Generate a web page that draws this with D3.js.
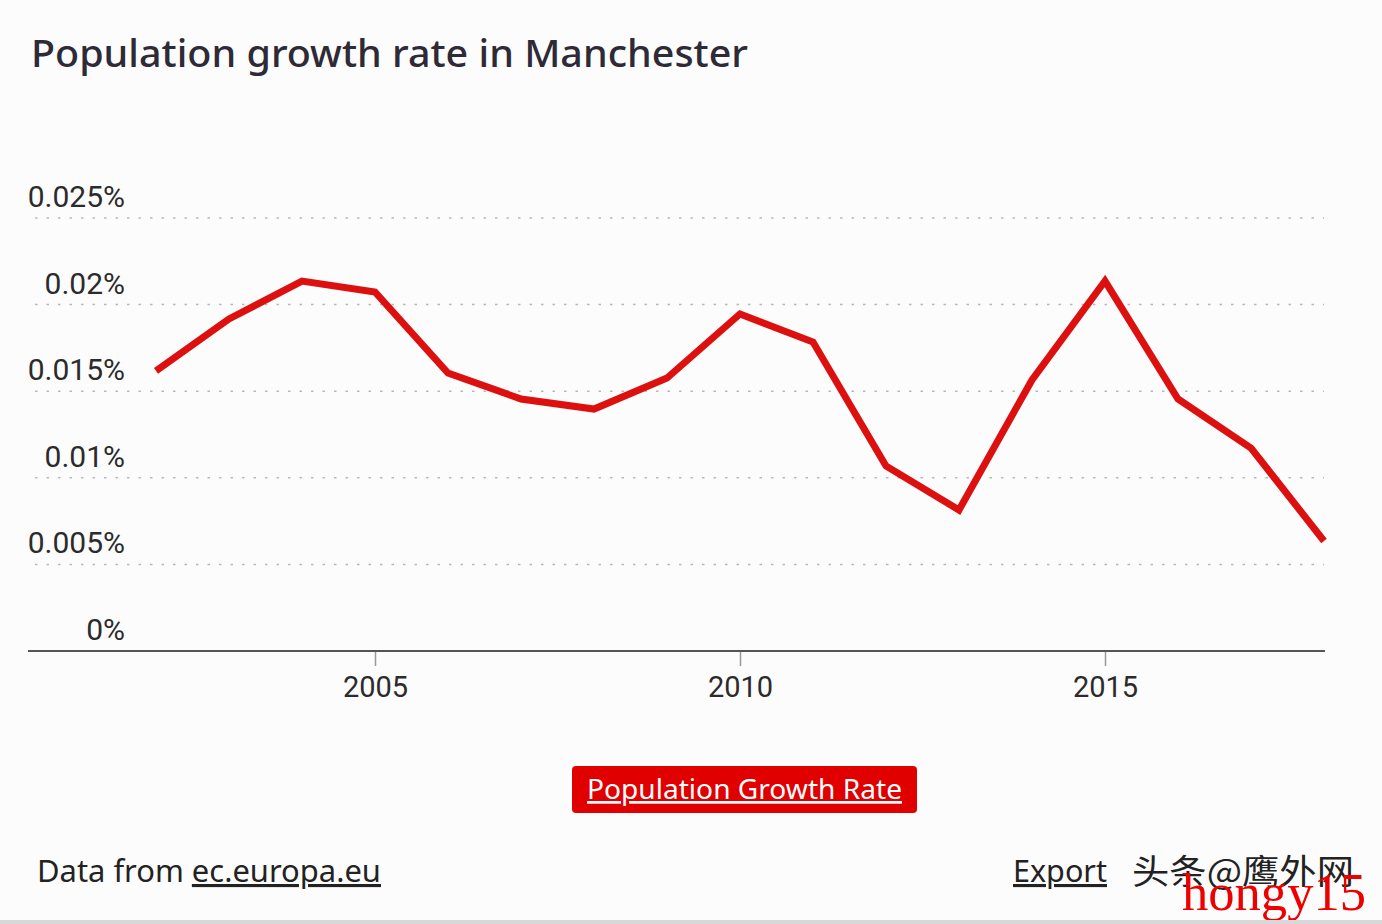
<!DOCTYPE html>
<html>
<head>
<meta charset="utf-8">
<script src="https://cdn.jsdelivr.net/npm/d3@7"></script>
<style>
  html, body { margin: 0; padding: 0; background: #fdfcfd; }
  svg { display: block; }
</style>
</head>
<body>
<svg id="chart" width="1382" height="924"></svg>
<script>
const years = [2002, 2003, 2004, 2005, 2006, 2007, 2008, 2009, 2010, 2011, 2012, 2013, 2014, 2015, 2016, 2017, 2018];
const growthRate = [0.01617, 0.01917, 0.02136, 0.02073, 0.01605, 0.01455, 0.01397, 0.01576, 0.01946, 0.01784, 0.01068, 0.00814, 0.01565, 0.02136, 0.01455, 0.01172, 0.00635];
const yTicks = [0, 0.005, 0.01, 0.015, 0.02, 0.025];
const yTickLabels = ["0%", "0.005%", "0.01%", "0.015%", "0.02%", "0.025%"];
const xTicks = [2005, 2010, 2015];
const xTickLabels = ["2005", "2010", "2015"];
const titleText = "Population growth rate in Manchester";
const seriesName = "Population Growth Rate";

const W = 1382, H = 924;
const plot = { left: 156, right: 1324, top: 218, bottom: 651 };

const svg = d3.select("#chart");
svg.append("rect").attr("width", W).attr("height", H).attr("fill", "#fdfcfd");

const x = d3.scaleLinear().domain([2002, 2018]).range([plot.left, plot.right]);
const y = d3.scaleLinear().domain([0, 0.025]).range([plot.bottom, plot.top]);

// Title
svg.append("text")
  .attr("x", 31).attr("y", 67)
  .attr("font-family", "'Noto Sans', sans-serif")
  .attr("font-weight", 500)
  .attr("font-size", 38)
  .attr("fill", "#2e2a36")
  .attr("textLength", 717)
  .attr("lengthAdjust", "spacingAndGlyphs")
  .text(titleText);

// Gridlines (dotted)
const grid = svg.append("g");
grid.selectAll("line").data(yTicks.filter(d => d > 0)).join("line")
  .attr("x1", 35).attr("x2", plot.right)
  .attr("y1", d => y(d)).attr("y2", d => y(d))
  .attr("stroke", "#b8b8b8").attr("stroke-width", 1.5)
  .attr("stroke-dasharray", "2.5,9");

// Y labels
const ylab = svg.append("g");
ylab.selectAll("text").data(yTicks).join("text")
  .attr("x", 125)
  .attr("y", d => y(d) - 11)
  .attr("text-anchor", "end")
  .attr("font-family", "Roboto, sans-serif")
  .attr("font-size", 30)
  .attr("fill", "#2b2b2b")
  .text((d, i) => yTickLabels[i]);

// X axis
const xAxis = d3.axisBottom(x).tickValues(xTicks).tickFormat((d, i) => xTickLabels[i]).tickSize(15).tickPadding(10);
const gx = svg.append("g").attr("transform", `translate(0,${plot.bottom})`).call(xAxis);
gx.select(".domain").remove();
gx.selectAll(".tick line").attr("stroke", "#999").attr("stroke-width", 1.5);
gx.selectAll(".tick text")
  .attr("font-family", "Roboto, sans-serif")
  .attr("font-size", 29)
  .attr("fill", "#2b2b2b");
svg.append("line")
  .attr("x1", 28).attr("x2", plot.right + 1)
  .attr("y1", plot.bottom).attr("y2", plot.bottom)
  .attr("stroke", "#555").attr("stroke-width", 2);

// Line
const line = d3.line().x((d, i) => x(years[i])).y(d => y(d));
svg.append("path")
  .datum(growthRate)
  .attr("d", line)
  .attr("fill", "none")
  .attr("stroke", "#dd1010")
  .attr("stroke-width", 7)
  .attr("stroke-linejoin", "miter");

// Legend button
const lg = svg.append("g");
lg.append("rect")
  .attr("x", 572).attr("y", 766).attr("width", 345).attr("height", 47)
  .attr("rx", 4).attr("fill", "#e00000");
lg.append("text")
  .attr("x", 744.5).attr("y", 799)
  .attr("text-anchor", "middle")
  .attr("font-family", "'Noto Sans', sans-serif")
  .attr("font-size", 27)
  .attr("fill", "#ffffff")
  .attr("text-decoration", "underline")
  .attr("textLength", 315)
  .attr("lengthAdjust", "spacingAndGlyphs")
  .text(seriesName);

// Footer
const ft = svg.append("text")
  .attr("x", 37).attr("y", 882)
  .attr("font-family", "'Noto Sans', sans-serif")
  .attr("font-size", 31)
  .attr("fill", "#222")
  .attr("textLength", 344)
  .attr("lengthAdjust", "spacingAndGlyphs");
ft.append("tspan").text("Data from ");
ft.append("tspan").attr("text-decoration", "underline").text("ec.europa.eu");

svg.append("text")
  .attr("x", 1013).attr("y", 882)
  .attr("font-family", "'Noto Sans', sans-serif")
  .attr("font-size", 31)
  .attr("fill", "#222")
  .attr("text-decoration", "underline")
  .attr("textLength", 94)
  .attr("lengthAdjust", "spacingAndGlyphs")
  .text("Export");

// Watermarks
svg.append("text")
  .attr("x", 1132).attr("y", 884)
  .attr("font-family", "'Noto Sans CJK SC', sans-serif")
  .attr("font-size", 34)
  .attr("fill", "#222")
  .attr("textLength", 222)
  .attr("lengthAdjust", "spacingAndGlyphs")
  .text("头条@鹰外网");
svg.append("text")
  .attr("x", 1182).attr("y", 910)
  .attr("font-family", "'Liberation Serif', serif")
  .attr("font-size", 52)
  .attr("fill", "#ee0000")
  .attr("textLength", 184)
  .attr("lengthAdjust", "spacingAndGlyphs")
  .text("hongy15");

svg.append("rect").attr("x", 0).attr("y", 920).attr("width", W).attr("height", 4).attr("fill", "#d8d8d8");
</script>
</body>
</html>
